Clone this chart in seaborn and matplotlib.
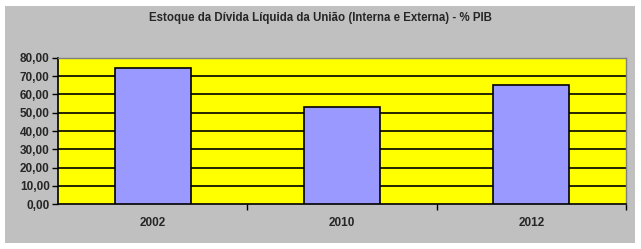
import matplotlib
matplotlib.use("Agg")
import matplotlib.pyplot as plt
import seaborn as sns
import pandas as pd
from matplotlib.patches import Rectangle

years = ["2002", "2010", "2012"]
values = [74.4, 53.0, 65.0]
yticks = [0, 10, 20, 30, 40, 50, 60, 70, 80]
title = "Estoque da Dívida Líquida da União (Interna e Externa) - % PIB"

df = pd.DataFrame({"ano": years, "valor": values})

sns.set_style("white")
plt.rcParams["font.family"] = ["Liberation Sans", "DejaVu Sans"]

W, H = 641, 249
fig = plt.figure(figsize=(W / 100, H / 100), dpi=100)
fig.patch.set_facecolor("white")

bg = fig.add_axes([0, 0, 1, 1], zorder=-10)
bg.set_xlim(0, W)
bg.set_ylim(H, 0)
bg.axis("off")
bg.add_patch(Rectangle((5, 6), 630, 237, facecolor="#C0C0C0", edgecolor="none"))

ax = fig.add_axes([58 / W, (249 - 204) / H, (626 - 58) / W, (204 - 58) / H], zorder=1)
ax.set_facecolor("#FFFF00")
sns.barplot(data=df, x="ano", y="valor", ax=ax, color="#9999FF", width=0.4,
            edgecolor="black", linewidth=1.2, saturation=1, zorder=3)
ax.set_ylim(0, 80)
ax.set_xlim(-0.5, 2.5)
ax.set_yticks(yticks)
ax.set_yticklabels([f"{v:.2f}".replace(".", ",") for v in yticks], fontweight="bold", fontsize=8.5)
ax.set_xticks([0, 1, 2])
ax.set_xticklabels(years, fontweight="bold", fontsize=8.5)
ax.set_xticks([0.5, 1.5, 2.5], minor=True)
ax.tick_params(axis="x", which="major", length=0, pad=9)
ax.tick_params(axis="x", which="minor", length=4, width=1, color="black", direction="out", bottom=True)
ax.tick_params(axis="y", length=4, width=1, color="black", direction="out", pad=2, left=True)
for y in yticks[1:]:
    ax.axhline(y, color="black", linewidth=1.2, zorder=1)
ax.set_xlabel("")
ax.set_ylabel("")
for s in ["top", "right"]:
    ax.spines[s].set_color("#808080")
    ax.spines[s].set_linewidth(1)
for s in ["left", "bottom"]:
    ax.spines[s].set_color("black")
    ax.spines[s].set_linewidth(1.2)

fig.text(320 / W, 1 - 18 / H, title, ha="center", va="center", fontsize=8.3, fontweight="bold",
         family=["Liberation Sans Narrow", "Liberation Sans", "DejaVu Sans"])

fig.savefig("out.png", dpi=100)
